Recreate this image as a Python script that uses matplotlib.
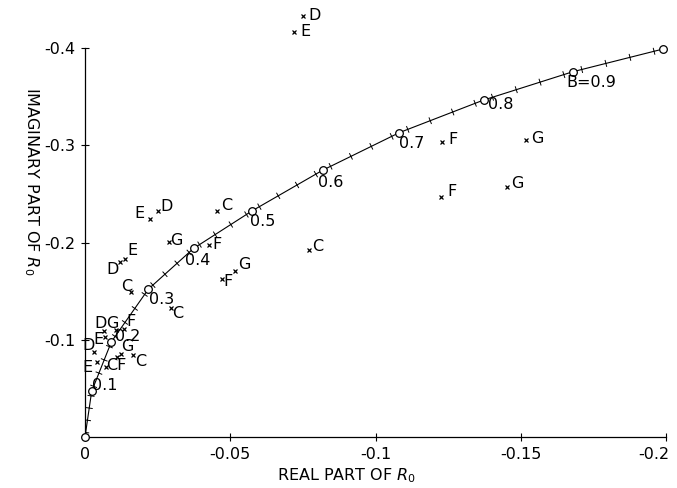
import numpy as np
import matplotlib
matplotlib.use("Agg")
import matplotlib.pyplot as plt
from matplotlib import patheffects as pe
from matplotlib.transforms import ScaledTranslation

# locus of R0 for B = 0 ... 1.0 (circles every 0.1)
curve_b = [0.0, 0.1, 0.2, 0.3, 0.4, 0.5, 0.6, 0.7, 0.8, 0.9, 1.0]
curve_re = [0.0, -0.0023, -0.0091, -0.0218, -0.0374, -0.0576, -0.0819, -0.1082, -0.1372, -0.1679, -0.1990]
curve_im = [0.0, -0.0470, -0.0980, -0.1520, -0.1940, -0.2327, -0.2745, -0.3130, -0.3465, -0.3756, -0.3990]
curve_labels = ["", "0.1", "0.2", "0.3", "0.4", "0.5", "0.6", "0.7", "0.8", "B=0.9", ""]

# individual cases (x marks)
pt_re = [-0.0749, -0.0720, -0.1229, -0.1518, -0.1225, -0.1454,
         -0.0225, -0.0252, -0.0453, -0.0288, -0.0427, -0.0771,
         -0.0120, -0.0137, -0.0470, -0.0517, -0.0159, -0.0297,
         -0.0065, -0.0107, -0.0134, -0.0068, -0.0031, -0.0041,
         -0.0071, -0.0111, -0.0123, -0.0166]
pt_im = [-0.4333, -0.4161, -0.3037, -0.3054, -0.2471, -0.2568,
         -0.2239, -0.2324, -0.2327, -0.2005, -0.1971, -0.1923,
         -0.1803, -0.1830, -0.1625, -0.1710, -0.1488, -0.1330,
         -0.1090, -0.1100, -0.1111, -0.1031, -0.0877, -0.0771,
         -0.0723, -0.0826, -0.0850, -0.0843]
pt_labels = ["D", "E", "F", "G", "F", "G",
             "E", "D", "C", "G", "F", "C",
             "D", "E", "F", "G", "C", "C",
             "D", "G", "F", "E", "D", "E",
             "CF", "", "G", "C"]

xticks = [0, -0.05, -0.1, -0.15, -0.2]
xticklabels = ["0", "-0.05", "-0.1", "-0.15", "-0.2"]
yticks = [-0.1, -0.2, -0.3, -0.4]
yticklabels = ["-0.1", "-0.2", "-0.3", "-0.4"]

# label offsets in pixels (dx right, dy up) -- layout only
pt_off = [(12, 0), (11, 1), (11, 2), (11, 2), (11, 5), (10, 4),
          (-11, 6), (8, 5), (10, 5), (8, 2), (8, 1), (9, 4),
          (-7, -8), (8, 9), (6, -3), (9, 6), (-5, 6), (6, -6),
          (-3, 8), (-4, 7), (7, 7), (-6, -3), (-5, 6), (-9, -5),
          (11, 1), (0, 0), (7, 8), (7, -6)]
curve_off = [(0, 0), (13, 6), (16, 5), (13, -10), (4, -12), (10, -11),
             (8, -12), (12, -11), (17, -4), (19, -11), (0, 0)]

fig = plt.figure(figsize=(6.77, 4.88), dpi=100)
ax = fig.add_axes([85 / 677, 51 / 488, 581 / 677, 437 / 488])
ax.set_xlim(0, -0.2)
ax.set_ylim(0, -0.4494)

for s in ["top", "right"]:
    ax.spines[s].set_visible(False)
ax.spines["left"].set_bounds(0, -0.4)
ax.spines["bottom"].set_bounds(0, -0.2)
ax.spines["left"].set_linewidth(0.9)
ax.spines["bottom"].set_linewidth(0.9)

ax.set_xticks(xticks)
ax.set_xticklabels(xticklabels)
ax.set_yticks(yticks)
ax.set_yticklabels(yticklabels)
ax.tick_params(direction="inout", length=6, width=0.8, labelsize=11.5)
ax.tick_params(axis="x", pad=4)
ax.tick_params(axis="y", pad=4)
last = ax.get_xticklabels()[-1]
last.set_transform(last.get_transform() + ScaledTranslation(-12 / 100, 0, fig.dpi_scale_trans))

ax.set_xlabel(r"REAL PART OF $R_0$", fontsize=11.5)
ax.xaxis.set_label_coords(0.45, -0.068)
ax.set_ylabel(r"IMAGINARY PART OF $R_0$", fontsize=11.5, rotation=270)
ax.yaxis.set_label_coords(-0.108, 0.585)

# curve, with small cross ticks (4 between each pair of circles)
for i in range(len(curve_re) - 1):
    p0 = ax.transData.transform((curve_re[i], curve_im[i]))
    p1 = ax.transData.transform((curve_re[i + 1], curve_im[i + 1]))
    seg = np.hypot(*(p1 - p0))
    sp = seg / 5 * 72 / fig.dpi
    L = 2.2 / sp
    ax.plot(curve_re[i:i + 2], curve_im[i:i + 2], color="black", lw=0.8,
            path_effects=[pe.withTickedStroke(spacing=sp, angle=90, length=L, linewidth=0.7),
                          pe.TickedStroke(spacing=sp, angle=-90, length=L, linewidth=0.7)])

ax.plot(curve_re, curve_im, "o", ms=5.5, mfc="white", mec="black", mew=0.9,
        clip_on=False, zorder=3)
for x, y, t, (dx, dy) in zip(curve_re, curve_im, curve_labels, curve_off):
    if t:
        ax.annotate(t, (x, y), xytext=(dx * 0.72, dy * 0.72), textcoords="offset points",
                    ha="center", va="center", fontsize=11.5)

ax.plot(pt_re, pt_im, "x", ms=3.5, mew=0.9, color="black", clip_on=False)
for x, y, t, (dx, dy) in zip(pt_re, pt_im, pt_labels, pt_off):
    if t:
        ax.annotate(t, (x, y), xytext=(dx * 0.72, dy * 0.72), textcoords="offset points",
                    ha="center", va="center", fontsize=11.5)

fig.savefig("out.png", dpi=100)
